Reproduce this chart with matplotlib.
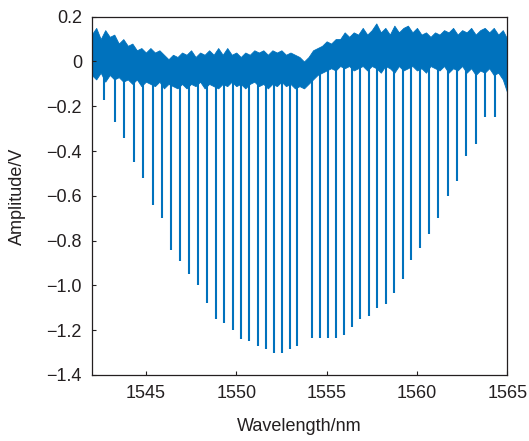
import matplotlib
matplotlib.use("Agg")
import matplotlib.pyplot as plt
import numpy as np

# grating dips: centre wavelength (nm) and minimum amplitude (V)
dip_wl = [1542.70, 1543.29, 1543.80, 1544.34, 1544.86, 1545.39, 1545.89, 1546.39,
          1546.89, 1547.38, 1547.88, 1548.38, 1548.86, 1549.32, 1549.80, 1550.26,
          1550.72, 1551.19, 1551.65, 1552.09, 1552.53, 1552.96, 1553.38, 1554.19,
          1554.63, 1555.08, 1555.52, 1555.96, 1556.41, 1556.85, 1557.33, 1557.79,
          1558.27, 1558.73, 1559.21, 1559.69, 1560.17, 1560.67, 1561.16, 1561.70,
          1562.20, 1562.71, 1563.27, 1563.77, 1564.32]
dip_amp = [-0.17, -0.27, -0.34, -0.45, -0.52, -0.64, -0.70, -0.84,
           -0.89, -0.95, -1.00, -1.08, -1.15, -1.17, -1.20, -1.24,
           -1.25, -1.27, -1.285, -1.30, -1.30, -1.285, -1.27, -1.235,
           -1.235, -1.235, -1.235, -1.22, -1.185, -1.15, -1.135, -1.10,
           -1.085, -1.035, -0.97, -0.885, -0.835, -0.77, -0.70, -0.60,
           -0.535, -0.42, -0.37, -0.25, -0.25]

# noisy baseline band, read every 0.25 nm from 1542 to 1565
band_wl = np.arange(1542.0, 1565.001, 0.25)
band_hi = [0.12, 0.15, 0.10, 0.14, 0.11, 0.12, 0.08, 0.10, 0.07, 0.08, 0.05, 0.06,
           0.04, 0.06, 0.04, 0.05, 0.03, 0.01, 0.03, 0.02, 0.04, 0.03, 0.05, 0.02,
           0.04, 0.03, 0.05, 0.03, 0.06, 0.03, 0.06, 0.03, 0.04, 0.02, 0.04, 0.03,
           0.05, 0.04, 0.05, 0.03, 0.05, 0.04, 0.05, 0.03, 0.04, 0.03, 0.02, 0.00,
           0.02, 0.05, 0.06, 0.07, 0.09, 0.08, 0.10, 0.10, 0.13, 0.11, 0.13, 0.12,
           0.15, 0.12, 0.14, 0.17, 0.13, 0.15, 0.12, 0.16, 0.13, 0.15, 0.16, 0.13,
           0.15, 0.12, 0.13, 0.11, 0.13, 0.12, 0.14, 0.13, 0.15, 0.12, 0.14, 0.13,
           0.15, 0.12, 0.14, 0.15, 0.13, 0.15, 0.12, 0.14, 0.10]
band_lo = [-0.06, -0.08, -0.05, -0.09, -0.06, -0.08, -0.07, -0.09, -0.08, -0.10, -0.08, -0.11,
           -0.09, -0.10, -0.11, -0.09, -0.12, -0.10, -0.11, -0.12, -0.10, -0.12, -0.10, -0.11,
           -0.09, -0.12, -0.10, -0.11, -0.12, -0.10, -0.11, -0.09, -0.11, -0.10, -0.12, -0.10,
           -0.09, -0.11, -0.10, -0.12, -0.10, -0.11, -0.09, -0.11, -0.10, -0.12, -0.11, -0.12,
           -0.10, -0.08, -0.06, -0.05, -0.04, -0.03, -0.04, -0.02, -0.03, -0.02, -0.04, -0.03,
           -0.02, -0.04, -0.02, -0.03, -0.05, -0.02, -0.03, -0.05, -0.02, -0.04, -0.03, -0.02,
           -0.04, -0.03, -0.05, -0.02, -0.03, -0.04, -0.02, -0.05, -0.03, -0.04, -0.02, -0.05,
           -0.03, -0.06, -0.04, -0.05, -0.03, -0.06, -0.05, -0.08, -0.14]

xticks = [1545, 1550, 1555, 1560, 1565]
yticks = [0.2, 0, -0.2, -0.4, -0.6, -0.8, -1.0, -1.2, -1.4]
ytick_labels = ["0.2", "0", "\u22120.2", "\u22120.4", "\u22120.6", "\u22120.8",
                "\u22121.0", "\u22121.2", "\u22121.4"]

blue = "#0072BD"
plt.rcParams["font.family"] = ["Liberation Sans", "DejaVu Sans"]

fig = plt.figure(figsize=(5.29, 4.41), dpi=100)
ax = fig.add_axes([0.1733, 0.1497, 0.7857, 0.8124])

ax.fill_between(band_wl, band_lo, band_hi, color=blue, lw=0.6, edgecolor=blue)
ax.vlines(dip_wl, dip_amp, 0, color=blue, lw=1.5)

ax.set_xlim(1542, 1565)
ax.set_ylim(-1.4, 0.2)
ax.set_xticks(xticks)
ax.set_yticks(yticks)
ax.set_yticklabels(ytick_labels)
ax.tick_params(direction="in", length=3, width=0.8, labelsize=13, pad=7,
               colors="#231F20", labelcolor="#231F20")
for s in ax.spines.values():
    s.set_color("#231F20")
    s.set_linewidth(0.9)

ax.set_xlabel("Wavelength/nm", fontsize=13, color="#231F20", labelpad=12)
ax.set_ylabel("Amplitude/V", fontsize=13, color="#231F20", labelpad=15)

fig.savefig("out.png", dpi=100)
